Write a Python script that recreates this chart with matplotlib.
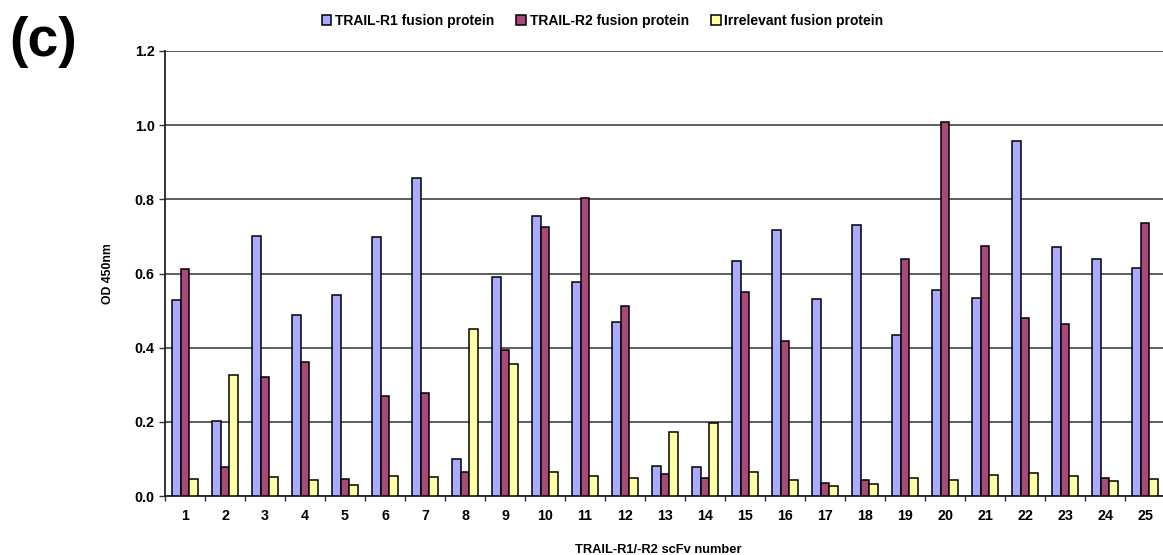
import matplotlib
matplotlib.use("Agg")
import matplotlib.pyplot as plt
import numpy as np

categories = [str(i) for i in range(1, 26)]
trail_r1 = [0.528, 0.203, 0.700, 0.489, 0.543, 0.698, 0.857, 0.100, 0.591, 0.755,
            0.576, 0.470, 0.081, 0.078, 0.633, 0.717, 0.530, 0.730, 0.435, 0.556,
            0.535, 0.957, 0.672, 0.638, 0.614]
trail_r2 = [0.611, 0.077, 0.321, 0.362, 0.045, 0.270, 0.279, 0.066, 0.395, 0.725,
            0.803, 0.513, 0.059, 0.048, 0.550, 0.419, 0.034, 0.042, 0.638, 1.009,
            0.673, 0.480, 0.464, 0.048, 0.735]
irrelevant = [0.045, 0.326, 0.051, 0.042, 0.031, 0.054, 0.050, 0.451, 0.356, 0.064,
              0.054, 0.049, 0.172, 0.196, 0.066, 0.044, 0.028, 0.032, 0.048, 0.042,
              0.056, 0.061, 0.053, 0.040, 0.045]
series_names = ["TRAIL-R1 fusion protein", "TRAIL-R2 fusion protein", "Irrelevant fusion protein"]
yticks = [0.0, 0.2, 0.4, 0.6, 0.8, 1.0, 1.2]

colors = ["#AAAAFF", "#A8497A", "#FFFFA6"]

plt.rcParams['font.family'] = ['Liberation Sans', 'DejaVu Sans']
plt.rcParams['font.weight'] = 'bold'

fig = plt.figure(figsize=(11.63, 5.55), dpi=100)
ax = fig.add_axes([165/1163, 1 - 496/555, 1000/1163, (496 - 51)/555])

x = np.arange(len(categories))
w = 0.223
for i, (vals, name, c) in enumerate(zip([trail_r1, trail_r2, irrelevant], series_names, colors)):
    ax.bar(x + (i - 1) * w, vals, width=w, color=c, edgecolor='black', linewidth=1.1,
           label=name, zorder=3)

ax.set_xlim(-0.5, len(categories) - 0.5)
ax.set_ylim(0, 1.2)
ax.set_yticks(yticks)
ax.set_yticklabels([f"{v:.1f}" for v in yticks], fontsize=10.3, fontweight='bold')
ax.set_xticks(x)
ax.set_xticklabels(categories, fontsize=10.3, fontweight='bold')
ax.set_xticks(np.arange(-0.5, len(categories), 1.0), minor=True)
ax.tick_params(axis='x', which='major', length=0, pad=9)
ax.tick_params(axis='x', which='minor', length=3.5, width=1, color='#333333', direction='out')
ax.tick_params(axis='y', which='major', length=4, width=1, color='#333333', pad=3.5)

ax.grid(axis='y', color='#333333', linewidth=1.1, zorder=0)
ax.set_axisbelow(True)
for s in ['top', 'right']:
    ax.spines[s].set_visible(False)
ax.spines['left'].set_linewidth(1.3)
ax.spines['left'].set_color('#222222')
ax.spines['bottom'].set_linewidth(1.3)
ax.spines['bottom'].set_color('#222222')

ax.set_xlabel("TRAIL-R1/-R2 scFv number", fontsize=9.3, fontweight='bold')
ax.xaxis.set_label_coords(0.493, -0.107)
ax.set_ylabel("OD 450nm", fontsize=8.8, fontweight='bold')
ax.yaxis.set_label_coords(-0.051, 0.50)

fig.legend(loc='center', bbox_to_anchor=(0.518, 0.963), ncol=3, frameon=False,
           fontsize=10, handlelength=0.7, handleheight=0.7, handletextpad=0.25,
           columnspacing=1.6, borderaxespad=0)

fig.text(9/1163, 1 - 42/555, "(c)", fontsize=40, fontweight='bold', va='center', ha='left')

fig.savefig("out.png", dpi=100)
